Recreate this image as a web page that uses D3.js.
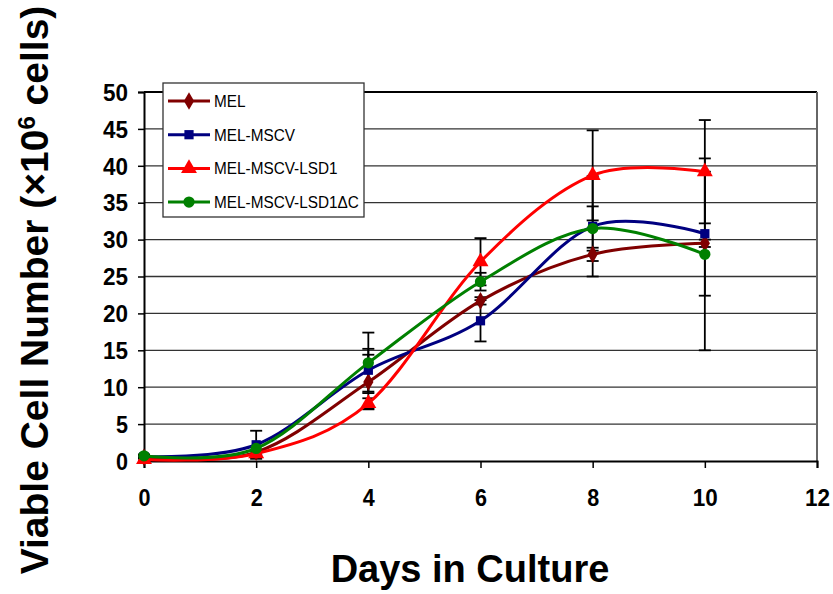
<!DOCTYPE html>
<html>
<head>
<meta charset="utf-8">
<script src="https://cdn.jsdelivr.net/npm/d3@7"></script>
<style>
body { margin: 0; background: #fff; }
text { font-family: Arial, "Liberation Sans", sans-serif; }
</style>
</head>
<body>
<div id="chart"></div>
<script>
// data
var days = [0, 2, 4, 6, 8, 10];
var melVals = [0.5, 1.2, 10.7, 21.7, 28.0, 29.5];
var mscvVals = [0.6, 2.2, 12.3, 19.0, 31.8, 30.8];
var lsd1Vals = [0.2, 1.0, 7.8, 27.0, 38.7, 39.2];
var dcVals = [0.7, 1.7, 13.3, 24.3, 31.5, 28.0];
var melErr = [0.2, 0.3, 3.7, 0.5, 0.9, 0.5];
var mscvErr = [0.2, 1.9, 2.9, 2.8, 6.8, 8.4];
var lsd1Err = [0.2, 0.3, 0.7, 3.2, 6.1, 7.0];
var dcErr = [0.2, 0.3, 4.1, 1.2, 3.0, 13.0];
var xTicks = [0, 2, 4, 6, 8, 10, 12];
var yTicks = [0, 5, 10, 15, 20, 25, 30, 35, 40, 45, 50];

var series = [
  {name: "MEL", vals: melVals, err: melErr, color: "#800000", shape: "diamond"},
  {name: "MEL-MSCV", vals: mscvVals, err: mscvErr, color: "#000080", shape: "square"},
  {name: "MEL-MSCV-LSD1", vals: lsd1Vals, err: lsd1Err, color: "#ff0000", shape: "triangle"},
  {name: "MEL-MSCV-LSD1\u0394C", vals: dcVals, err: dcErr, color: "#008000", shape: "circle"}
];

var W = 833, H = 594;
var L = 144, R = 817, T = 92, B = 461;

var svg = d3.select("#chart").append("svg")
  .attr("width", W).attr("height", H);

var x = d3.scaleLinear().domain([0, 12]).range([L, R]);
var y = d3.scaleLinear().domain([0, 50]).range([B, T]);

// gridlines
svg.append("g").selectAll("line")
  .data(yTicks.filter(function(d) { return d > 0; }))
  .enter().append("line")
  .attr("x1", L).attr("x2", R)
  .attr("y1", function(d) { return y(d); })
  .attr("y2", function(d) { return y(d); })
  .attr("stroke", "#333").attr("stroke-width", 1.3);

// border top / right
svg.append("line").attr("x1", L).attr("x2", R).attr("y1", T).attr("y2", T)
  .attr("stroke", "#000").attr("stroke-width", 2);
svg.append("line").attr("x1", R).attr("x2", R).attr("y1", T).attr("y2", B)
  .attr("stroke", "#666").attr("stroke-width", 2);

// axes
var xAxis = svg.append("g").attr("transform", "translate(0," + B + ")")
  .call(d3.axisBottom(x).tickValues(xTicks).tickSize(7).tickPadding(22));
var yAxis = svg.append("g").attr("transform", "translate(" + L + ",0)")
  .call(d3.axisLeft(y).tickValues(yTicks).tickSize(6).tickPadding(10));

[xAxis, yAxis].forEach(function(a) {
  a.select(".domain").attr("stroke", "#000").attr("stroke-width", 2);
  a.selectAll(".tick line").attr("stroke", "#000").attr("stroke-width", 1.5);
  a.selectAll(".tick text").attr("fill", "#000")
    .style("font-size", "23px").style("font-weight", "bold")
    .attr("transform", "scale(0.92,1)");
});
yAxis.selectAll(".tick text").attr("dy", "0.36em").attr("transform", null)
  .attr("textLength", function(d) { return d < 10 ? 12 : 25; })
  .attr("lengthAdjust", "spacingAndGlyphs");
xAxis.selectAll(".tick text").attr("transform", null)
  .attr("textLength", function(d) { return d < 10 ? 12 : 25; })
  .attr("lengthAdjust", "spacingAndGlyphs");

// error bars
var eb = svg.append("g");
series.forEach(function(s) {
  days.forEach(function(d, i) {
    var lo = s.vals[i] - s.err[i], hi = s.vals[i] + s.err[i];
    eb.append("line").attr("x1", x(d)).attr("x2", x(d))
      .attr("y1", y(lo)).attr("y2", y(hi))
      .attr("stroke", "#000").attr("stroke-width", 1.8);
    [lo, hi].forEach(function(v) {
      eb.append("line").attr("x1", x(d) - 6).attr("x2", x(d) + 6)
        .attr("y1", y(v)).attr("y2", y(v))
        .attr("stroke", "#000").attr("stroke-width", 1.8);
    });
  });
});

var line = d3.line()
  .x(function(d, i) { return x(days[i]); })
  .y(function(d) { return y(d); })
  .curve(d3.curveCatmullRom.alpha(0));

var symbolOf = {
  diamond: d3.symbol().type(d3.symbolDiamond).size(90),
  square: d3.symbol().type(d3.symbolSquare).size(85),
  triangle: d3.symbol().type(d3.symbolTriangle).size(110),
  circle: d3.symbol().type(d3.symbolCircle).size(100)
};

series.forEach(function(s) {
  var g = svg.append("g");
  g.append("path").attr("d", line(s.vals))
    .attr("fill", "none").attr("stroke", s.color).attr("stroke-width", 3);
  g.selectAll("path.pt").data(s.vals).enter().append("path")
    .attr("class", "pt")
    .attr("d", symbolOf[s.shape]())
    .attr("transform", function(d, i) { return "translate(" + x(days[i]) + "," + y(d) + ")"; })
    .attr("fill", s.color);
});

// legend
var lg = svg.append("g");
lg.append("rect").attr("x", 163).attr("y", 83).attr("width", 201).attr("height", 134)
  .attr("fill", "#fff").attr("stroke", "#333").attr("stroke-width", 1.3);
series.forEach(function(s, i) {
  var ly = 101 + i * 33.7;
  lg.append("line").attr("x1", 168).attr("x2", 210).attr("y1", ly).attr("y2", ly)
    .attr("stroke", s.color).attr("stroke-width", 3);
  lg.append("path").attr("d", symbolOf[s.shape]())
    .attr("transform", "translate(189," + ly + ")").attr("fill", s.color);
  lg.append("text").attr("x", 214).attr("y", ly + 6)
    .style("font-size", "16.5px").attr("fill", "#000")
    .attr("transform", "translate(214,0) scale(0.93,1) translate(-214,0)")
    .text(s.name);
});

// axis titles
svg.append("text").attr("x", 470).attr("y", 582).attr("text-anchor", "middle")
  .style("font-size", "38px").style("font-weight", "bold").text("Days in Culture");

var yt = svg.append("text").attr("transform", "translate(48,290) rotate(-90)")
  .attr("text-anchor", "middle")
  .style("font-size", "39px").style("font-weight", "bold");
yt.append("tspan").text("Viable Cell Number (\u00d710");
yt.append("tspan").attr("dy", -13).style("font-size", "24px").text("6");
yt.append("tspan").attr("dy", 13).text(" cells)");
</script>
</body>
</html>
